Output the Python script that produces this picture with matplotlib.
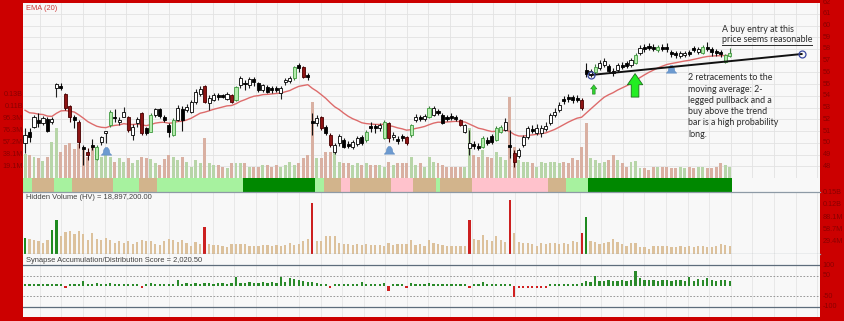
import numpy as np
import matplotlib
matplotlib.use('Agg')
import matplotlib.pyplot as plt
from matplotlib.transforms import blended_transform_factory as blend
from matplotlib.path import Path
from matplotlib.lines import Line2D

# ---------------- data ----------------
opens = [49.98, 50.92, 51.34, 51.94, 51.68, 52.03, 51.77, 54.67, 54.84, 54.16,
         53.13, 52.20, 51.77, 49.64, 49.21, 49.81, 48.62, 50.07, 50.83, 51.51,
         52.20, 51.77, 52.20, 52.20, 50.66, 51.68, 52.54, 51.26, 50.92, 52.37,
         52.88, 52.20, 51.51, 50.66, 51.94, 52.88, 52.79, 52.62, 53.47, 54.16,
         54.84, 53.39, 53.65, 54.07, 54.07, 53.73, 54.07, 53.65, 54.92, 55.09,
         54.92, 55.43, 55.09, 54.50, 54.75, 54.67, 54.67, 54.24, 55.18, 55.26,
         55.52, 56.63, 56.46, 55.77, 51.86, 51.68, 52.20, 51.34, 50.66, 49.21,
         49.98, 50.24, 49.90, 49.64, 49.90, 50.49, 50.24, 51.43, 51.43, 51.26,
         50.41, 51.68, 50.49, 50.32, 50.58, 50.49, 50.66, 51.94, 52.20, 52.03,
         52.20, 52.37, 52.71, 52.37, 52.20, 52.28, 52.20, 51.94, 50.92, 49.55,
         49.90, 49.72, 49.64, 50.24, 50.58, 50.24, 50.92, 51.09, 49.81, 49.13,
         48.87, 49.81, 50.49, 51.17, 50.83, 50.83, 51.17, 51.68, 52.37, 52.79,
         53.73, 53.90, 53.90, 53.82, 53.65, 56.20, 55.77, 56.03, 56.37, 56.63,
         56.54, 56.12, 56.20, 56.63, 56.80, 56.63, 56.80, 57.65, 58.16, 58.25,
         58.16, 57.90, 58.16, 58.16, 57.73, 57.65, 57.39, 57.48, 57.73, 58.08,
         57.73, 57.65, 58.16, 57.99, 57.82, 57.73, 56.88, 57.40]
highs = [51.26, 51.26, 52.37, 52.54, 52.28, 52.20, 52.20, 55.10, 55.09, 54.24,
         53.22, 52.37, 51.94, 49.81, 49.55, 50.32, 49.81, 50.58, 51.00, 52.79,
         52.88, 52.20, 53.05, 52.28, 51.60, 52.20, 52.62, 51.34, 52.54, 52.96,
         52.96, 52.37, 51.68, 52.11, 53.22, 53.13, 53.30, 53.65, 54.58, 54.84,
         54.92, 54.07, 54.24, 54.24, 54.16, 54.33, 54.16, 54.84, 55.69, 55.35,
         55.60, 55.60, 55.18, 55.01, 54.92, 54.84, 54.84, 54.84, 55.52, 55.69,
         56.54, 56.80, 56.54, 55.99, 52.54, 52.37, 52.28, 51.51, 50.83, 49.98,
         50.75, 50.41, 50.15, 50.24, 50.58, 50.66, 51.09, 51.77, 51.60, 51.68,
         51.94, 51.77, 50.92, 50.58, 50.75, 50.58, 51.60, 52.45, 52.37, 52.45,
         53.13, 53.13, 52.88, 52.54, 52.37, 52.54, 52.37, 52.03, 51.60, 51.09,
         50.15, 49.98, 50.58, 50.49, 50.75, 51.43, 51.51, 52.11, 51.09, 49.38,
         49.55, 50.66, 51.43, 51.51, 51.60, 51.51, 51.77, 52.54, 52.96, 53.47,
         53.99, 54.16, 54.07, 54.07, 53.82, 56.80, 56.29, 56.71, 57.05, 57.22,
         56.71, 56.37, 56.80, 56.88, 56.97, 57.22, 57.65, 58.33, 58.42, 58.50,
         58.42, 58.33, 58.42, 58.50, 57.90, 57.82, 57.82, 57.82, 57.90, 58.25,
         58.16, 58.33, 58.59, 58.16, 57.99, 57.90, 57.57, 58.08]
lows = [49.13, 50.07, 51.26, 51.34, 51.51, 50.92, 51.60, 53.90, 54.50, 52.79,
        51.77, 51.26, 49.55, 48.10, 48.53, 49.38, 48.53, 49.81, 49.98, 51.34,
        51.77, 51.51, 52.20, 50.92, 50.24, 51.34, 50.66, 50.66, 50.92, 52.20,
        52.11, 51.77, 50.49, 50.58, 51.86, 51.00, 52.62, 52.54, 53.30, 53.99,
        53.39, 52.79, 53.56, 53.65, 53.82, 53.65, 53.39, 53.56, 54.67, 54.50,
        54.67, 54.84, 54.33, 54.33, 54.24, 54.24, 54.33, 53.73, 54.92, 55.09,
        55.35, 56.03, 55.52, 55.35, 50.66, 51.43, 51.09, 50.66, 49.64, 49.04,
        49.72, 49.55, 49.55, 49.47, 49.72, 49.81, 50.07, 50.92, 50.83, 51.00,
        50.32, 50.07, 50.24, 49.90, 50.15, 49.81, 50.49, 51.77, 51.86, 51.86,
        52.11, 52.28, 52.37, 51.60, 51.86, 51.94, 51.86, 51.43, 50.83, 48.96,
        49.47, 49.38, 49.55, 49.81, 49.90, 50.15, 50.83, 51.00, 48.70, 47.93,
        48.70, 49.64, 50.32, 50.83, 50.66, 50.49, 51.00, 51.51, 52.20, 52.62,
        53.30, 53.47, 53.39, 53.47, 52.79, 55.60, 55.60, 55.86, 56.20, 56.46,
        55.94, 55.69, 56.03, 56.29, 56.37, 56.46, 56.71, 57.48, 57.73, 57.90,
        57.82, 57.73, 57.82, 57.73, 57.31, 57.22, 57.22, 57.31, 57.39, 57.73,
        57.56, 57.56, 57.82, 57.39, 57.39, 57.31, 56.80, 57.31]
closes = [50.66, 50.49, 52.20, 51.68, 52.11, 51.00, 52.03, 55.01, 54.67, 52.96,
          52.20, 51.94, 50.07, 49.47, 48.96, 49.64, 49.64, 50.49, 51.00, 52.62,
          52.11, 51.94, 52.62, 51.09, 51.34, 52.03, 50.83, 50.83, 52.37, 52.88,
          52.28, 51.94, 50.92, 51.94, 52.96, 51.94, 53.05, 53.47, 54.33, 54.58,
          53.47, 53.82, 54.07, 53.90, 53.90, 54.16, 53.47, 54.75, 55.52, 55.01,
          55.43, 55.18, 54.50, 54.92, 54.33, 54.50, 54.50, 54.67, 55.35, 55.52,
          56.46, 56.37, 55.60, 55.60, 51.68, 52.11, 51.26, 50.83, 49.81, 49.81,
          50.58, 49.64, 49.72, 50.07, 50.41, 49.98, 50.92, 51.26, 51.26, 51.51,
          51.77, 50.41, 50.66, 50.15, 50.41, 49.98, 51.51, 52.20, 52.03, 52.28,
          52.96, 52.96, 52.54, 51.68, 52.03, 52.11, 52.03, 51.51, 51.51, 49.98,
          49.72, 49.55, 50.41, 49.98, 50.07, 51.26, 51.34, 51.77, 49.64, 48.36,
          49.38, 50.49, 51.26, 51.00, 51.26, 51.26, 51.43, 52.37, 52.62, 53.22,
          53.56, 53.73, 53.65, 53.65, 52.96, 55.86, 56.12, 56.46, 56.80, 56.97,
          56.12, 55.94, 56.63, 56.46, 56.54, 57.05, 57.48, 58.08, 57.99, 58.08,
          57.99, 58.16, 57.99, 57.99, 57.56, 57.48, 57.65, 57.65, 57.56, 57.90,
          57.99, 58.16, 57.99, 57.73, 57.65, 57.56, 57.48, 57.65]
# candle kind: w = hollow up, k = black down, g = green up, r = dark-red down
kinds = ("wkwkwkwwkr" "rkrkrkgwwg" "kwwrwwrkgw" "kkkgwkwwww" "rwwkkwrgwk"
         "wkkwkkkwww" "gkrkkwrkrw" "wkkwwkgkkw" "grwkkrgwkw" "gwkkkkkrww"
         "kkgkkggwkr" "wwwkwwwwww" "kkkkrkwgww" "kkwkkwgwkk" "kgkkkkwwkk"
         "wgkkkkgg")
volume_m = [38.6, 37, 34, 32, 27, 34, 58, 80, 42, 53,
            56, 47, 55, 47, 34, 50, 37, 34, 39, 34,
            26, 32, 26, 32, 24, 29, 34, 32, 31, 24,
            21, 31, 37, 34, 29, 34, 26, 18, 29, 24,
            64, 24, 21, 21, 18, 16, 24, 24, 24, 24,
            18, 18, 18, 21, 21, 18, 21, 18, 21, 26,
            21, 24, 32, 37, 122, 32, 32, 42, 42, 42,
            26, 24, 24, 21, 24, 21, 24, 21, 21, 21,
            18, 26, 21, 24, 24, 24, 34, 21, 24, 18,
            34, 26, 24, 21, 18, 18, 18, 18, 18, 80,
            37, 34, 45, 34, 32, 42, 34, 29, 130, 50,
            29, 26, 26, 24, 18, 26, 24, 26, 26, 24,
            26, 24, 32, 29, 50, 88, 32, 29, 24, 26,
            29, 37, 29, 24, 18, 26, 27, 16, 16, 13,
            18, 18, 18, 18, 16, 16, 18, 16, 18, 16,
            18, 18, 16, 16, 18, 24, 21, 18]
hv_green = [0, 6, 7, 125]
hv_red = [40, 64, 99, 108, 124]
score = [8, 8, 8, 8, 8, 8, 8, 8, 8, -12,
         8, 8, 8, 25, 8, 8, 15, 8, 8, 15,
         8, 8, 8, 8, 8, 8, -12, 8, 15, 8,
         8, 8, 12, 8, 30, 12, 15, 12, 15, 12,
         15, 15, 12, 15, 15, 12, 15, 45, 15, 15,
         20, 15, 15, 20, 15, 20, 15, 45, 20, 40,
         35, 30, 25, 20, 20, 15, 10, 8, -8, 8,
         8, 8, 8, 8, 8, 20, 8, 8, 8, 8,
         15, -25, 8, 8, 8, -8, 15, 8, 8, 8,
         15, 8, 12, 8, 8, 8, 8, 8, 8, -8,
         8, 8, 20, 8, 8, 12, 8, 8, 8, -55,
         -10, -10, -10, -10, -10, -10, -10, 8, 10, 10,
         10, 12, 12, 12, 15, 25, 20, 50, 25, 25,
         28, 25, 25, 28, 25, 28, 75, 40, 30, 28,
         28, 25, 28, 28, 25, 28, 28, 25, 45, 25,
         35, 28, 40, 28, 25, 30, 28, 25]
band_runs = [('lg', 2), ('tan', 5), ('lg', 4), ('tan', 9), ('lg', 6), ('tan', 4),
             ('lg', 19), ('dg', 16), ('lg', 2), ('tan', 4), ('pink', 2), ('tan', 9),
             ('pink', 5), ('tan', 5), ('lg', 1), ('tan', 7), ('pink', 17), ('tan', 4),
             ('lg', 5), ('dg', 32)]
price_ticks = list(range(48, 63))
vol_ticks = [19.07, 38.14, 57.2, 76.3, 95.3, 114.4, 133.5]
vol_tick_labels = ['19.1M', '38.1M', '57.2M', '76.3M', '95.3M', '0.11B', '0.13B']
hv_ticks = [29.4, 58.7, 88.1, 117.4, 146.8]
hv_tick_labels = ['29.4M', '58.7M', '88.1M', '0.12B', '0.15B']
score_ticks = [100, 50, -50, -100]
ema_period = 20
ema_seed = 53.0
pullback_marks = [(18, 49.3), (81, 49.35), (144, 56.3)]
trend_start = (126, 55.78)
trend_end = (173, 57.57)

# ---------------- figure ----------------
W, H = 845, 321
fig = plt.figure(figsize=(W / 100, H / 100), dpi=100)
RED = '#cc0000'
fig.patch.set_facecolor(RED)
BG = '#f8f8f8'
GRID = '#e2e2e2'
LBL = '#8a0000'
FONT = 'Liberation Sans'


def fr(x0, y0, x1, y1):
    return [x0 / W, 1 - y1 / H, (x1 - x0) / W, (y1 - y0) / H]


N = len(closes)
idx = np.arange(N)
XL = (-0.45, 177.1)
grid_x = np.arange(3.3, 177, 4.81)

ax_bg = fig.add_axes(fr(23, 3, 820, 178))
ax_vol = fig.add_axes(fr(23, 3, 820, 178))
ax = fig.add_axes(fr(23, 3, 820, 178))
ax_band = fig.add_axes(fr(23, 178, 820, 192))
ax_hv = fig.add_axes(fr(23, 192, 820, 254))
ax_sc = fig.add_axes(fr(23, 254, 820, 317))

for a in (ax_bg, ax_vol, ax, ax_band, ax_hv, ax_sc):
    a.set_xlim(*XL)
    a.set_xticks([])
    a.set_yticks([])
    for s in a.spines.values():
        s.set_visible(False)

ax_bg.set_facecolor(BG)
ax_vol.set_facecolor('none')
ax.set_facecolor('none')
PLO, PHI = 47.0, 61.92
ax_bg.set_ylim(PLO, PHI)
ax.set_ylim(PLO, PHI)
ax_vol.set_ylim(0, 281.4)

# grid
for p in price_ticks:
    ax_bg.axhline(p, color=GRID, lw=0.6, zorder=0)
for gx in grid_x:
    ax_bg.axvline(gx, color=GRID, lw=0.6, zorder=0)

# volume
vcol = ['#b7d5a8' if c >= o else '#d9b0a2' for o, c in zip(opens, closes)]
ax_vol.bar(idx, volume_m, width=0.66, color=vcol, linewidth=0)

# EMA
alpha = 2 / (ema_period + 1)
ema = []
prev = ema_seed
for c in closes:
    prev = prev + alpha * (c - prev)
    ema.append(prev)
ax.plot(idx, ema, color='#dd6b6b', lw=1.0, zorder=2)

# candles
face = {'w': 'white', 'k': 'black', 'g': '#b4ecac', 'r': '#8e1414'}
edge = {'w': 'black', 'k': 'black', 'g': '#3f9a3f', 'r': '#4a0000'}
wick = {'w': '#222', 'k': '#111', 'g': '#3f7a3f', 'r': '#3a0000'}
o = np.array(opens); c = np.array(closes)
body_lo = np.minimum(o, c)
body_h = np.maximum(np.abs(c - o), 0.03)
ax.vlines(idx, lows, highs, colors=[wick[k] for k in kinds], lw=0.8, zorder=3)
ax.bar(idx, body_h, bottom=body_lo, width=0.68,
       color=[face[k] for k in kinds], edgecolor=[edge[k] for k in kinds],
       linewidth=0.6, zorder=4)

# pullback markers (bell shape)
bell = Path([(-1, -0.7), (1, -0.7), (0.65, -0.35), (0.5, 0.35), (0.2, 0.75),
             (-0.2, 0.75), (-0.5, 0.35), (-0.65, -0.35), (-1, -0.7)], closed=True)
for bx, by in pullback_marks:
    ax.plot(bx, by, marker=bell, ms=7.5, color='#6c9ad0', mec='#5a88c0', mew=0.4, zorder=5)

# trend line
ax.plot([trend_start[0], trend_end[0]], [trend_start[1], trend_end[1]],
        color='#111111', lw=1.4, zorder=6)
for pt in (trend_start, trend_end):
    ax.plot(*pt, marker='o', ms=5, mfc='none', mec='#3a4aa0', mew=0.9, zorder=7)

# green arrows
ax.annotate('', xy=(126.7, 54.95), xytext=(126.7, 54.15),
            arrowprops=dict(arrowstyle='simple,head_width=0.9,head_length=0.6,tail_width=0.4',
                            mutation_scale=5, fc='#2fd42f', ec='#237a23', lw=0.4,
                            shrinkA=0, shrinkB=0), zorder=6)
ax.annotate('', xy=(135.9, 55.9), xytext=(135.9, 53.9),
            arrowprops=dict(arrowstyle='simple,head_width=1.1,head_length=0.8,tail_width=0.55',
                            mutation_scale=10, fc='#22ee22', ec='#1a6e1a', lw=0.6,
                            shrinkA=0, shrinkB=0), zorder=6)

# band
band_colors = {'lg': '#a7f29f', 'tan': '#d2b48c', 'dg': '#008800', 'pink': '#ffc2cc'}
band_state = []
for st, n in band_runs:
    band_state += [st] * n
ax_band.set_facecolor(BG)
ax_band.set_ylim(0, 1)
ax_band.bar(idx[:len(band_state)], [1] * len(band_state), width=1.0, bottom=0,
            color=[band_colors[s] for s in band_state], linewidth=0)

# hidden volume
ax_hv.set_facecolor(BG)
ax_hv.set_ylim(0, 148)
for gx in grid_x:
    ax_hv.axvline(gx, color='#e6e6e6', lw=0.6, zorder=0)
hcol = []
for i in range(N):
    if i in hv_red:
        hcol.append('#cc2020')
    elif i in hv_green:
        hcol.append('#1f8a1f')
    else:
        hcol.append('#dcc19c')
ax_hv.bar(idx, volume_m, width=0.5, color=hcol, linewidth=0, zorder=2)
ax_hv.spines['top'].set_visible(True)
ax_hv.spines['bottom'].set_visible(True)
ax_hv.spines['top'].set_color('#8e9aa6')
ax_hv.spines['bottom'].set_color('#8e9aa6')
ax_hv.spines['top'].set_linewidth(0.9)
ax_hv.spines['bottom'].set_linewidth(0.9)

# score
ax_sc.set_facecolor(BG)
ax_sc.set_ylim(-151, 156)
for gx in grid_x:
    ax_sc.axvline(gx, color='#e6e6e6', lw=0.6, zorder=0)
for lv in (100, -100):
    ax_sc.axhline(lv, color='#5d6c7b', lw=0.9, zorder=1)
for lv in (50, -50):
    ax_sc.axhline(lv, color='#8a8a8a', lw=0.6, ls=(0, (2, 2)), zorder=1)
scol = ['#2a8a2a' if s >= 0 else '#d02020' for s in score]
ax_sc.bar(idx, score, width=0.5, color=scol, linewidth=0, zorder=2)

# right-side labels
def right_labels(a, vals, labels):
    tr = blend(a.transAxes, a.transData)
    for v, l in zip(vals, labels):
        a.text(1.003, v, l, transform=tr, fontsize=5.2, color=LBL, va='center',
               ha='left', family=FONT, clip_on=False)

right_labels(ax, price_ticks, [str(p) for p in price_ticks])
right_labels(ax_hv, hv_ticks, hv_tick_labels)
right_labels(ax_sc, score_ticks, [str(s) for s in score_ticks])
trv = blend(ax_vol.transAxes, ax_vol.transData)
for v, l in zip(vol_ticks, vol_tick_labels):
    ax_vol.text(0.0, v, l, transform=trv, fontsize=5.2, color=LBL, va='center',
                ha='right', family=FONT, clip_on=False)

# panel titles
def ftext(x, y, s, **kw):
    return fig.text(x / W, 1 - y / H, s, va='center', ha='left', **kw)

ftext(26, 8, 'EMA (20)', fontsize=5.4, color='#cc3a3a', family=FONT)
ftext(26, 197.5, 'Hidden Volume (HV) = 18,897,200.00', fontsize=5.4, color='#404040', family=FONT)
ftext(26, 260, 'Synapse Accumulation/Distribution Score = 2,020.50', fontsize=5.4,
      color='#404040', family=FONT)

# annotations
AF = 'Lato'
ftext(722, 29, 'A buy entry at this', fontsize=6.4, color='#2a2a2a', family=AF)
t2 = ftext(722, 40, 'price seems reasonable', fontsize=6.4, color='#2a2a2a', family=AF)
note = ['2 retracements to the', 'moving average: 2-', 'legged pullback and a',
        'buy above the trend', 'bar is a high probability', 'long.']
for k, line in enumerate(note):
    ftext(688, 78 + k * 11.2, line, fontsize=6.4, color='#2a2a2a', family=AF)

fig.canvas.draw()
bb = t2.get_window_extent(fig.canvas.get_renderer())
uy = 1 - 44.5 / H
fig.add_artist(Line2D([bb.x0 / W, bb.x1 / W], [uy, uy], transform=fig.transFigure,
                      color='#2a2a2a', lw=0.7))

fig.savefig('out.png', dpi=100, facecolor=RED)
